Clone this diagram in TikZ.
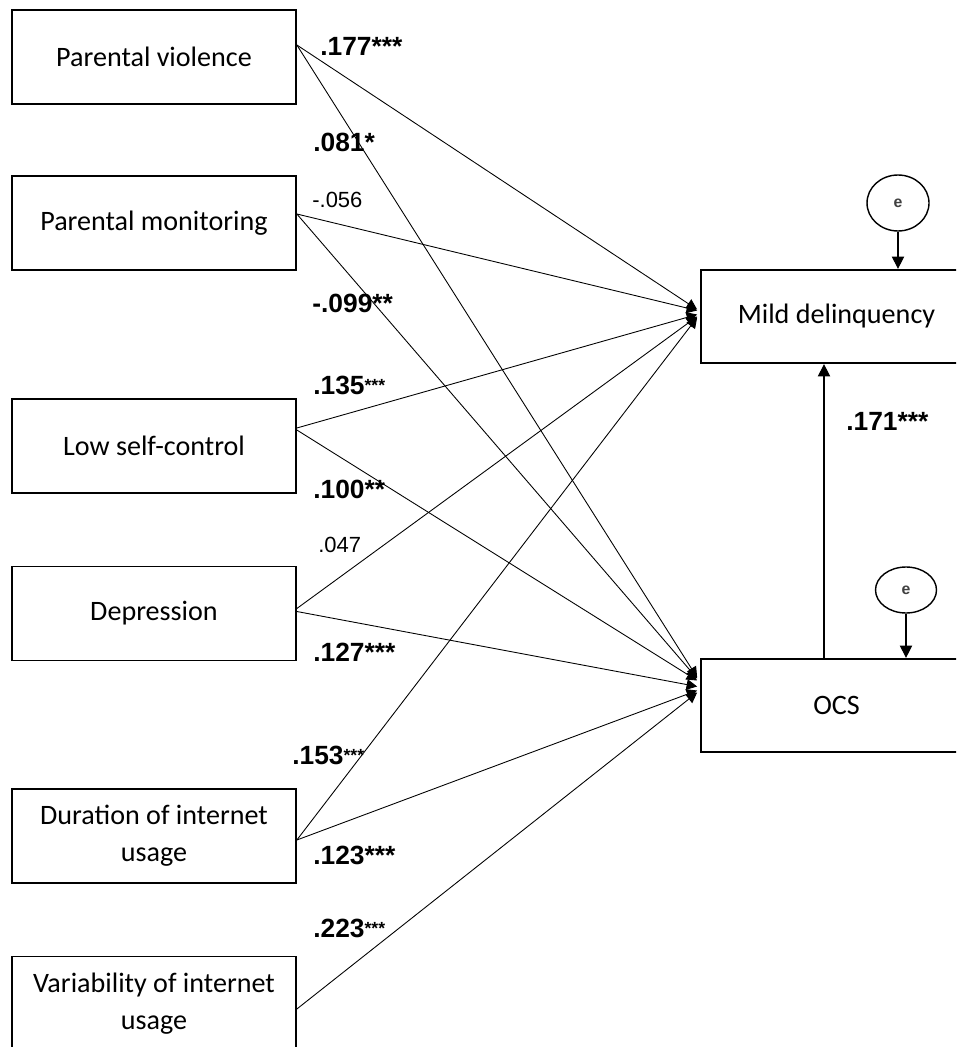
\documentclass[tikz,border=0pt]{standalone}
\usepackage{fontspec}
\setmainfont{Carlito}
\newfontfamily\numfont{Liberation Sans}
\usetikzlibrary{arrows.meta, calc, shapes.geometric}
\newcommand{\smallast}[1]{\raisebox{1.5pt}{\fontsize{10}{10}\selectfont #1}}

\begin{document}
\begin{tikzpicture}[
      x=0.02cm, y=-0.02cm,
      every node/.style={font=\fontsize{16}{21}\selectfont},
      var/.style={draw, line width=1pt, minimum width=5.68cm,
                  minimum height=1.88cm, align=center, inner sep=0pt},
      outc/.style={draw, line width=1pt, minimum width=5.42cm,
                   minimum height=1.87cm, inner sep=0pt},
      err/.style={draw, ellipse, line width=0.8pt, inner sep=0pt,
                  font=\numfont\bfseries\fontsize{9}{9}\selectfont, text=black!75},
      eff/.style={-{Triangle[length=6pt,width=6pt]}, line width=0.5pt},
      erreff/.style={-{Triangle[length=7pt,width=7pt]}, line width=0.6pt},
      sig/.style={font=\numfont\bfseries\fontsize{15}{15}\selectfont,
                  anchor=west, inner sep=0pt},
      ns/.style={font=\numfont\fontsize{12.5}{12.5}\selectfont,
                 anchor=west, inner sep=0pt},
    ]
    \useasboundingbox (0,0) rectangle (956,1047);
    \clip (0,0) rectangle (956,1047);
    \fill[white] (0,0) rectangle (956,1047);

    \node[var] (viol)  at (154,57)     {Parental violence};
    \node[var] (monit) at (154,223)    {Parental monitoring};
    \node[var] (selfc) at (154,446)    {Low self-control};
    \node[var] (depr)  at (154,613.5)  {Depression};
    \node[var] (durat) at (154,836)    {Duration of internet\\usage};
    \node[var] (varia) at (154,1003.5) {Variability of internet\\usage};

    \node[outc] (mild) at (836.5,316.5) {Mild delinquency};
    \node[outc] (ocs)  at (836.5,705.5) {OCS};
    \node[err, minimum width=1.24cm, minimum height=1.12cm] (emild) at (898,203) {e};
    \node[err, minimum width=1.22cm, minimum height=0.92cm] (eocs)  at (906,590) {e};

    \draw[eff] ($(viol.east)+(0,-12)$)   -- ($(mild.west)+(-3,-7)$);
    \draw[eff] ($(viol.east)+(0,-12)$)   -- ($(ocs.west)+(-3,-28)$);
    \draw[eff] ($(monit.east)+(0,-9)$)   -- ($(mild.west)+(-3,-6)$);
    \draw[eff] ($(monit.east)+(0,-9)$)   -- ($(ocs.west)+(-3,-27)$);
    \draw[eff] ($(selfc.east)+(0,-18)$)  -- ($(mild.west)+(-3,-2)$);
    \draw[eff] ($(selfc.east)+(0,-16)$)  -- ($(ocs.west)+(-3,-25)$);
    \draw[eff] ($(depr.east)+(0,-5)$)    -- ($(mild.west)+(-3,0)$);
    \draw[eff] ($(depr.east)+(0,-2)$)    -- ($(ocs.west)+(-3,-19)$);
    \draw[eff] ($(durat.east)+(0,4)$)    -- ($(mild.west)+(-3,1)$);
    \draw[eff] ($(durat.east)+(0,4)$)    -- ($(ocs.west)+(-3,-15)$);
    \draw[eff] ($(varia.east)+(0,5.5)$)  -- ($(ocs.west)+(-3,-13)$);

    \draw[erreff] ($(ocs.north)+(-12.5,0)$) -- ($(mild.south)+(-12.5,0)$);
    \draw[erreff] (emild.south) -- (emild.south |- mild.north);
    \draw[erreff] (eocs.south) -- (eocs.south |- ocs.north);

    \node[sig] (lviolm)  at (320,46)  {.177***};
    \node[sig] (lviolo)  at (313,142) {.081*};
    \node[ns]  (lmonitm) at (312,200) {-.056};
    \node[sig] (lmonito) at (312,303) {-.099**};
    \node[sig] (lselfm)  at (313,385) {.135\smallast{***}};
    \node[sig] (lselfo)  at (313,489) {.100**};
    \node[ns]  (ldeprm)  at (318,545) {.047};
    \node[sig] (ldepro)  at (313,652) {.127***};
    \node[sig] (ldurm)   at (292,755) {.153\smallast{***}};
    \node[sig] (lduro)   at (313,855) {.123***};
    \node[sig] (lvaro)   at (313,928) {.223\smallast{***}};
    \node[sig] (locsm)   at (846,421) {.171***};
  \end{tikzpicture}
\end{document}
